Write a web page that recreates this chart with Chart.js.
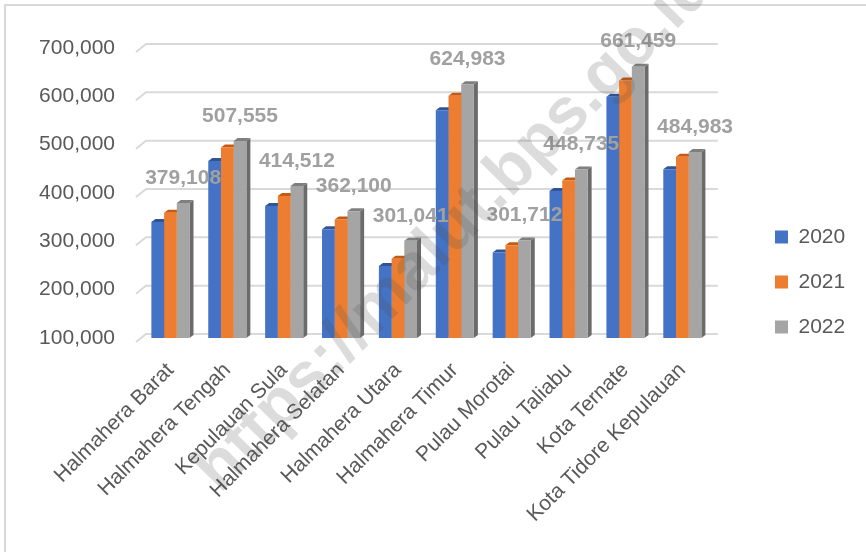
<!DOCTYPE html>
<html>
<head>
<meta charset="utf-8">
<script src="https://cdn.jsdelivr.net/npm/chart.js@4"></script>
<style>
  html, body { margin: 0; padding: 0; background: #fff; }
  #wrap { width: 866px; height: 552px; position: relative; }
</style>
</head>
<body>
<div id="wrap"><canvas id="myChart" width="866" height="552"></canvas></div>
<script>
var categories = ['Halmahera Barat', 'Halmahera Tengah', 'Kepulauan Sula', 'Halmahera Selatan',
  'Halmahera Utara', 'Halmahera Timur', 'Pulau Morotai', 'Pulau Taliabu', 'Kota Ternate',
  'Kota Tidore Kepulauan'];
var years = ['2020', '2021', '2022'];
var values2020 = [340000, 466000, 373000, 325000, 249000, 571000, 277000, 404000, 599000, 449000];
var values2021 = [359000, 494000, 394000, 345000, 264000, 601000, 292000, 426000, 633000, 475000];
var values2022 = [379108, 507555, 414512, 362100, 301041, 624983, 301712, 448735, 661459, 484983];
var yTicks = [100000, 200000, 300000, 400000, 500000, 600000, 700000];

var FONT = 'Liberation Sans';
var TEXT = '#595959';

// front colour, top face, side face
var shades = [
  ['#4472c4', '#2f5597', '#2b4f8f'],
  ['#ed7d31', '#c55a11', '#b15410'],
  ['#a5a5a5', '#7f7f7f', '#6b6b6b']
];

var depthX = 4, depthY = 3;

var fakeThreeD = {
  id: 'fakeThreeD',
  afterLayout: function (chart) {
    // push the legend further right and centre it like the original
    var lg = chart.legend;
    var dx = 775 - 24 - lg.left;
    lg.left += dx; lg.right += dx;
    var dy = 281 - (lg.top + lg.bottom) / 2 + 1;
    lg.top += dy; lg.bottom += dy;
  },
  beforeDatasetsDraw: function (chart) {
    var ctx = chart.ctx;
    var ys = chart.scales.y;
    var area = chart.chartArea;
    // back-wall gridlines with a small floor stub
    ctx.save();
    ctx.strokeStyle = '#d9d9d9';
    ctx.lineWidth = 2;
    yTicks.forEach(function (v) {
      var y = ys.getPixelForValue(v);
      ctx.beginPath();
      ctx.moveTo(area.left - 6, y + 4);
      ctx.lineTo(area.left + 4, y - 4);
      ctx.lineTo(area.right + 7, y - 4);
      ctx.stroke();
    });
    // side and top faces, drawn first so the fronts cover them
    chart.data.datasets.forEach(function (ds, di) {
      var meta = chart.getDatasetMeta(di);
      meta.data.forEach(function (bar) {
        var half = bar.width / 2;
        var l = bar.x - half, r = bar.x + half;
        var base = Math.min(bar.base, area.bottom);
        ctx.fillStyle = shades[di][2];
        ctx.beginPath();
        ctx.moveTo(r, bar.y);
        ctx.lineTo(r + depthX, bar.y - depthY);
        ctx.lineTo(r + depthX, base - depthY);
        ctx.lineTo(r, base);
        ctx.closePath();
        ctx.fill();
        ctx.fillStyle = shades[di][1];
        ctx.beginPath();
        ctx.moveTo(l, bar.y);
        ctx.lineTo(l + depthX, bar.y - depthY);
        ctx.lineTo(r + depthX, bar.y - depthY);
        ctx.lineTo(r, bar.y);
        ctx.closePath();
        ctx.fill();
      });
    });
    ctx.restore();
  },
  afterDatasetsDraw: function (chart) {
    var ctx = chart.ctx;
    var meta = chart.getDatasetMeta(2);
    ctx.save();
    ctx.font = 'bold 21px "' + FONT + '"';
    ctx.fillStyle = '#a0a0a0';
    ctx.textAlign = 'center';
    ctx.textBaseline = 'middle';
    meta.data.forEach(function (bar, i) {
      ctx.fillText(values2022[i].toLocaleString('en-US'), bar.x, bar.y - 25);
    });
    ctx.restore();
  },
  afterDraw: function (chart) {
    var ctx = chart.ctx;
    ctx.save();
    // outer frame
    ctx.strokeStyle = '#d9d9d9';
    ctx.lineWidth = 2;
    ctx.strokeRect(5, 5, 900, 600);
    // watermark
    ctx.translate(455, 229);
    ctx.rotate(-45.5 * Math.PI / 180);
    ctx.font = 'bold 66px "' + FONT + '"';
    ctx.fillStyle = 'rgba(80,80,80,0.2)';
    ctx.textAlign = 'center';
    ctx.textBaseline = 'middle';
    ctx.fillText('https://malut.bps.go.id', 0, 0);
    ctx.restore();
  }
};

var ctx = document.getElementById('myChart').getContext('2d');
var myChart = new Chart(ctx, {
  type: 'bar',
  data: {
    labels: categories,
    datasets: [
      { label: years[0], data: values2020, backgroundColor: shades[0][0] },
      { label: years[1], data: values2021, backgroundColor: shades[1][0] },
      { label: years[2], data: values2022, backgroundColor: shades[2][0] }
    ]
  },
  plugins: [fakeThreeD],
  options: {
    responsive: false,
    animation: false,
    layout: { padding: { left: 27, top: 48, right: 51, bottom: 10 } },
    datasets: {
      bar: { barPercentage: 1.0, categoryPercentage: 0.67 }
    },
    plugins: {
      tooltip: { enabled: false },
      legend: {
        position: 'right',
        labels: {
          font: { family: FONT, size: 21 },
          color: TEXT,
          boxWidth: 13,
          boxHeight: 13,
          padding: 24
        }
      }
    },
    scales: {
      x: {
        grid: { display: false },
        border: { display: false },
        ticks: {
          font: { family: FONT, size: 21 },
          color: TEXT,
          maxRotation: 45,
          minRotation: 45,
          autoSkip: false,
          padding: 12
        },
        afterFit: function (s) {
          s.height = 204;
          s.paddingLeft = 0;
          s.paddingRight = 0;
        }
      },
      y: {
        min: 100000,
        max: 700000,
        grid: { display: false, drawTicks: false },
        border: { display: false },
        ticks: {
          stepSize: 100000,
          font: { family: FONT, size: 21 },
          color: TEXT,
          padding: 27,
          callback: function (v) { return v.toLocaleString('en-US'); }
        },
        afterFit: function (s) { s.width = 115; }
      }
    }
  }
});
</script>
</body>
</html>
